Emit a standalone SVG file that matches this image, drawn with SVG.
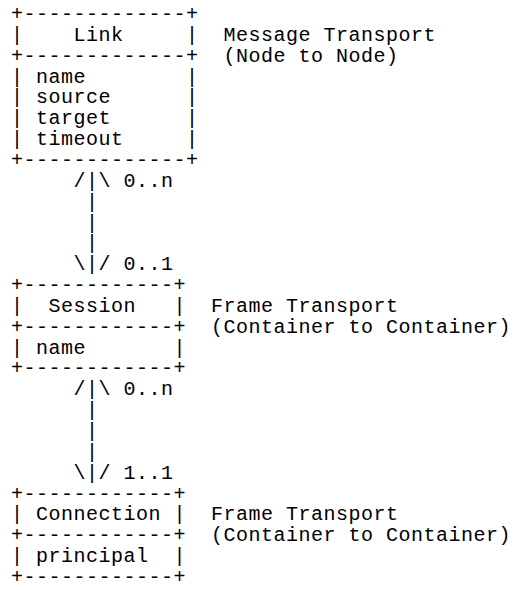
<svg xmlns="http://www.w3.org/2000/svg" width="514" height="590" viewBox="0 0 514 590" xml:space="preserve">
<style>
  text { font-family: "Liberation Mono", "DejaVu Sans Mono", monospace; font-size: 20px; letter-spacing: 0.5px; fill: #000; white-space: pre; }
</style>
<rect x="0" y="0" width="514" height="590" fill="#fff"/>

<g id="node-link">
  <text x="11" y="20">+-------------+</text>
  <text x="11" y="40.85">|</text><text x="73.5" y="40.85">Link</text><text x="186" y="40.85">|</text>
  <text x="11" y="61.7">+-------------+</text>
  <text x="11" y="82.55">|</text><text x="36" y="82.55">name</text><text x="186" y="82.55">|</text>
  <text x="11" y="103.4">|</text><text x="36" y="103.4">source</text><text x="186" y="103.4">|</text>
  <text x="11" y="124.25">|</text><text x="36" y="124.25">target</text><text x="186" y="124.25">|</text>
  <text x="11" y="145.1">|</text><text x="36" y="145.1">timeout</text><text x="186" y="145.1">|</text>
  <text x="11" y="165.95">+-------------+</text>
</g>
<g id="label-link">
  <text x="223.5" y="40.85">Message Transport</text>
  <text x="223.5" y="61.7">(Node to Node)</text>
</g>

<g id="node-session">
  <text x="11" y="291.05">+------------+</text>
  <text x="11" y="311.9">|</text><text x="48.5" y="311.9">Session</text><text x="173.5" y="311.9">|</text>
  <text x="11" y="332.75">+------------+</text>
  <text x="11" y="353.6">|</text><text x="36" y="353.6">name</text><text x="173.5" y="353.6">|</text>
  <text x="11" y="374.45">+------------+</text>
</g>
<g id="label-session">
  <text x="211" y="311.9">Frame Transport</text>
  <text x="211" y="332.75">(Container to Container)</text>
</g>

<g id="node-connection">
  <text x="11" y="499.55">+------------+</text>
  <text x="11" y="520.4">|</text><text x="36" y="520.4">Connection</text><text x="173.5" y="520.4">|</text>
  <text x="11" y="541.25">+------------+</text>
  <text x="11" y="562.1">|</text><text x="36" y="562.1">principal</text><text x="173.5" y="562.1">|</text>
  <text x="11" y="582.95">+------------+</text>
</g>
<g id="label-connection">
  <text x="211" y="520.4">Frame Transport</text>
  <text x="211" y="541.25">(Container to Container)</text>
</g>

<g id="connectors">
  <g id="link-session">
    <text x="73.5" y="186.8">/|\</text><text x="123.5" y="186.8">0..n</text>
    <text x="86" y="207.65">|</text>
    <text x="86" y="228.5">|</text>
    <text x="86" y="249.35">|</text>
    <text x="73.5" y="270.2">\|/</text><text x="123.5" y="270.2">0..1</text>
  </g>
  <g id="session-connection">
    <text x="73.5" y="395.3">/|\</text><text x="123.5" y="395.3">0..n</text>
    <text x="86" y="416.15">|</text>
    <text x="86" y="437">|</text>
    <text x="86" y="457.85">|</text>
    <text x="73.5" y="478.7">\|/</text><text x="123.5" y="478.7">1..1</text>
  </g>
</g>
</svg>
